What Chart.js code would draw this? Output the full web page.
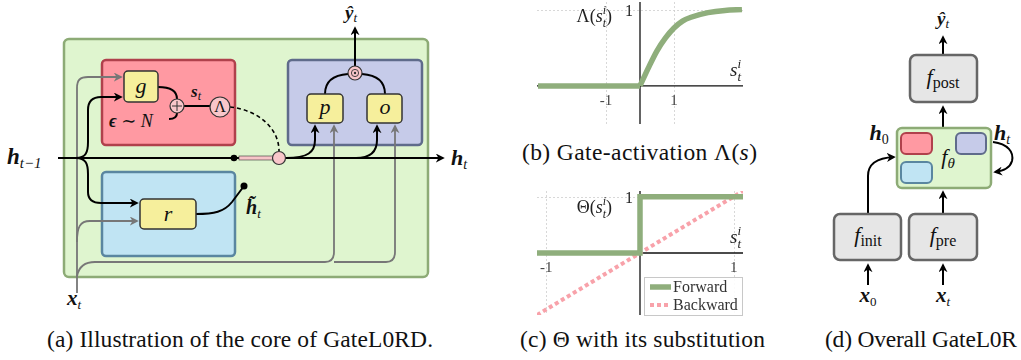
<!doctype html>
<html lang="en">
<head>
<meta charset="utf-8">
<title>GateL0RD</title>
<script src="https://cdn.jsdelivr.net/npm/chart.js"></script>
<style>
    body { margin: 0; background: #fff; }
    #page { position: relative; width: 1021px; height: 360px; overflow: hidden; }
    #page svg { position: absolute; left: 0; top: 0; }
    .cv { position: absolute; }
    .cap { font-family: "Liberation Serif", "DejaVu Serif", "Times New Roman", Times, serif; font-size: 23.5px; fill: #111; }
    .m { font-family: "Liberation Serif", "DejaVu Serif", "Times New Roman", Times, serif; font-style: italic; fill: #111; }
    .b { font-weight: bold; }
    .rm { font-style: normal; }
</style>
</head>
<body>
<div id="page">
<svg width="1021" height="360" viewBox="0 0 1021 360">
    <defs>
        <marker id="ab" viewBox="0 0 10 10" refX="8" refY="5" markerWidth="9" markerHeight="9" orient="auto" markerUnits="userSpaceOnUse">
            <path d="M0,0 L10,5 L0,10 L3,5z" fill="#000"/>
        </marker>
        <marker id="ag" viewBox="0 0 10 10" refX="8" refY="5" markerWidth="9" markerHeight="9" orient="auto" markerUnits="userSpaceOnUse">
            <path d="M0,0 L10,5 L0,10 L3,5z" fill="#777"/>
        </marker>
    </defs>

    <!-- (a) core of GateL0RD -->
    <rect x="64" y="39" width="364" height="238" rx="5" fill="#dff5cf" stroke="#8dab76" stroke-width="2.5"/>
    <rect x="102" y="60" width="133" height="85" rx="4" fill="#ff99a2" stroke="#b0414c" stroke-width="2.5"/>
    <rect x="288" y="60" width="134" height="85" rx="4" fill="#c6cbe9" stroke="#5f6b8b" stroke-width="2.5"/>
    <rect x="102" y="172" width="133" height="84" rx="4" fill="#c0e4f3" stroke="#5a86a0" stroke-width="2.5"/>

    <g fill="none" stroke="#777" stroke-width="1.8">
        <path d="M77,293 V88 C77,80 80,77 88,77 H121" marker-end="url(#ag)"/>
        <path d="M77,242 C77,227 80,221 90,221 H137" marker-end="url(#ag)"/>
        <path d="M77,276 C79,266 85,262 95,262 H325 C331,262 334,258 334,252 V126" marker-end="url(#ag)"/>
        <path d="M334,262 H386 C392,262 395,258 395,252 V126" marker-end="url(#ag)"/>
    </g>
    <g fill="none" stroke="#000" stroke-width="2">
        <path d="M58,158 H443" marker-end="url(#ab)"/>
        <path d="M76,158 C86,158 88,152 88,142 V110 C88,101 92,97 101,97 H121" marker-end="url(#ab)"/>
        <path d="M76,158 C86,158 88,164 88,174 V192 C88,199 92,203 101,203 H137" marker-end="url(#ab)"/>
        <path d="M286,158 C308,158 315,152 315,140 V126" marker-end="url(#ab)"/>
        <path d="M356,158 C370,158 377,152 377,140 V126" marker-end="url(#ab)"/>
        <path d="M158,87 C171,87 177,91 177,99"/>
        <path d="M169,119 C175,119 177,116 177,113"/>
        <path d="M184,106 H210"/>
        <path d="M196,214 C214,214 224,212 232,202 L244,186"/>
        <path d="M325,94 C325,81 334,75 348,74"/>
        <path d="M385,94 C385,81 376,75 362,74"/>
        <path d="M355,66 V28" marker-end="url(#ab)"/>
        <path d="M230,107 C258,110 279,128 279,151" stroke-width="1.6" stroke-dasharray="4,3"/>
    </g>
    <g fill="#f6ef9c" stroke="#333" stroke-width="1.5">
        <rect x="124" y="71" width="34" height="31" rx="4"/>
        <rect x="140" y="199" width="56" height="30" rx="4"/>
        <rect x="307" y="94" width="36" height="29" rx="4"/>
        <rect x="367" y="94" width="35" height="29" rx="4"/>
    </g>
    <rect x="239" y="156" width="36" height="4" fill="#f7c4c8" stroke="#333" stroke-width="0.6"/>
    <circle cx="234" cy="158" r="3.3" fill="#000"/>
    <circle cx="244" cy="186" r="3.5" fill="#000"/>
    <g fill="#f9c6ca" stroke="#333" stroke-width="1.2">
        <circle cx="279" cy="158" r="6.5"/>
        <circle cx="177" cy="106" r="7"/>
        <circle cx="220" cy="107" r="10"/>
        <circle cx="355" cy="73" r="7"/>
    </g>
    <path d="M172,106 H182 M177,101 V111" stroke="#333" stroke-width="1"/>
    <circle cx="355" cy="73" r="3.6" fill="none" stroke="#333" stroke-width="0.9"/>
    <circle cx="355" cy="73" r="1.2" fill="#333"/>

    <text class="m" x="141" y="93" font-size="22" text-anchor="middle">g</text>
    <text class="m" x="168" y="221" font-size="22" text-anchor="middle">r</text>
    <text class="m" x="325" y="114" font-size="22" text-anchor="middle">p</text>
    <text class="m" x="385" y="114" font-size="22" text-anchor="middle">o</text>
    <text class="m rm" x="220" y="112" font-size="16" text-anchor="middle">Λ</text>
    <text class="m" x="191" y="97" font-size="17"><tspan class="b">s</tspan><tspan font-size="12" dy="3">t</tspan></text>
    <text class="m" x="109" y="127" font-size="18"><tspan class="b">ϵ</tspan><tspan class="rm"> ∼ </tspan><tspan>N</tspan></text>
    <text class="m" x="246" y="214" font-size="20"><tspan class="b">h̃</tspan><tspan font-size="13" dy="4">t</tspan></text>
    <text class="m" x="7" y="164" font-size="23"><tspan class="b">h</tspan><tspan font-size="15" dy="4">t−1</tspan></text>
    <text class="m" x="451" y="165" font-size="22"><tspan class="b">h</tspan><tspan font-size="14" dy="4">t</tspan></text>
    <text class="m" x="345" y="19" font-size="19"><tspan class="b">ŷ</tspan><tspan font-size="13" dy="3">t</tspan></text>
    <text class="m" x="67" y="305" font-size="21"><tspan class="b">x</tspan><tspan font-size="13" dy="4">t</tspan></text>

    <!-- (d) overall GateL0RD -->
    <g fill="none" stroke="#000" stroke-width="2">
        <path d="M943,55 V37" marker-end="url(#ab)"/>
        <path d="M943,127 V107" marker-end="url(#ab)"/>
        <path d="M943,213 V192" marker-end="url(#ab)"/>
        <path d="M868,213 V176 C868,164 876,158 894,157" marker-end="url(#ab)"/>
        <path d="M868,285 V265" marker-end="url(#ab)"/>
        <path d="M943,285 V265" marker-end="url(#ab)"/>
        <path d="M993,142 C1008,144 1014,152 1012,161 C1010,168 1003,171 995,172" marker-end="url(#ab)"/>
    </g>
    <g fill="#e6e6e6" stroke="#666" stroke-width="2.5">
        <rect x="910" y="55" width="67" height="47" rx="6"/>
        <rect x="834" y="214" width="67" height="46" rx="6"/>
        <rect x="909" y="214" width="68" height="46" rx="6"/>
    </g>
    <rect x="897" y="128" width="94" height="60" rx="5" fill="#dff5cf" stroke="#8dab76" stroke-width="2.5"/>
    <rect x="901" y="133" width="31" height="21" rx="5" fill="#ff99a2" stroke="#b0414c" stroke-width="2"/>
    <rect x="956" y="133" width="30" height="21" rx="5" fill="#c6cbe9" stroke="#5f6b8b" stroke-width="2"/>
    <rect x="901" y="162" width="31" height="21" rx="5" fill="#c0e4f3" stroke="#5a86a0" stroke-width="2"/>

    <text class="m" x="943" y="25" font-size="19" text-anchor="middle"><tspan class="b">ŷ</tspan><tspan font-size="13" dy="3">t</tspan></text>
    <text class="m" x="943" y="84" font-size="22" text-anchor="middle">f<tspan class="rm" font-size="16" dy="4">post</tspan></text>
    <text class="m" x="948" y="164" font-size="22" text-anchor="middle">f<tspan font-size="15" dy="4">θ</tspan></text>
    <text class="m" x="868" y="242" font-size="22" text-anchor="middle">f<tspan class="rm" font-size="16" dy="4">init</tspan></text>
    <text class="m" x="943" y="242" font-size="22" text-anchor="middle">f<tspan class="rm" font-size="16" dy="4">pre</tspan></text>
    <text class="m" x="879" y="140" font-size="22" text-anchor="middle"><tspan class="b">h</tspan><tspan class="rm" font-size="14" dy="4">0</tspan></text>
    <text class="m" x="994" y="140" font-size="22"><tspan class="b">h</tspan><tspan font-size="14" dy="4">t</tspan></text>
    <text class="m" x="868" y="302" font-size="21" text-anchor="middle"><tspan class="b">x</tspan><tspan class="rm" font-size="13" dy="4">0</tspan></text>
    <text class="m" x="943" y="302" font-size="21" text-anchor="middle"><tspan class="b">x</tspan><tspan font-size="13" dy="4">t</tspan></text>

    <!-- captions -->
    <text class="cap" x="47" y="347" textLength="386">(a) Illustration of the core of GateL0RD.</text>
    <text class="cap" x="522" y="160" textLength="235">(b) Gate-activation Λ(<tspan font-style="italic">s</tspan>)</text>
    <text class="cap" x="520" y="347" textLength="245">(c) Θ with its substitution</text>
    <text class="cap" x="825" y="347" textLength="192">(d) Overall GateL0R</text>
</svg>
<canvas id="gateChart" class="cv" width="240" height="130" style="left:520px;top:0px"></canvas>
<canvas id="thetaChart" class="cv" width="240" height="150" style="left:520px;top:180px"></canvas>
</div>

<script>
    // (b) gate activation
    const gateS = [-3, -2, -1, 0, 0.25, 0.5, 0.75, 1, 1.25, 1.5, 2, 2.5, 3];
    const gateVal = [0, 0, 0, 0, 0.24, 0.46, 0.63, 0.76, 0.85, 0.9, 0.96, 0.99, 1.0];
    const gateTicks = [-1, 1];

    // (c) Heaviside forward pass and straight-through backward pass
    const forwardS = [-1.1, 0, 0, 1.1];
    const forwardVal = [0, 0, 1, 1];
    const backwardS = [-1.1, 1.1];
    const backwardVal = [-1.1, 1.1];
    const thetaTicks = [-1, 1];

    const green = '#8fae7c';
    const pink = '#f8a2aa';
    const serif = '"Liberation Serif", "DejaVu Serif", "Times New Roman", serif';

    function pts(xs, ys) {
        return xs.map((x, i) => ({x: x, y: ys[i]}));
    }

    // draws a run of text pieces: [text, font, dy, advance]
    function drawMath(ctx, x, y, parts, align) {
        let w = 0;
        parts.forEach(p => {
            ctx.font = p[1];
            if (p[3] !== false) w += ctx.measureText(p[0]).width;
        });
        let cx = align === 'right' ? x - w : (align === 'center' ? x - w / 2 : x);
        parts.forEach(p => {
            ctx.font = p[1];
            ctx.fillText(p[0], cx, y + (p[2] || 0));
            if (p[3] !== false) cx += ctx.measureText(p[0]).width;
        });
    }

    function sParts(size) {
        const sub = Math.round(size * 0.68);
        return [
            ['s', 'italic ' + size + 'px ' + serif, 0],
            ['i', 'italic ' + sub + 'px ' + serif, -8, false],
            ['t', 'italic ' + sub + 'px ' + serif, 5]
        ];
    }

    function axesPlugin(opts) {
        return {
            id: 'axes_' + opts.ticks.length + opts.nameDy,
            beforeDatasetsDraw(chart) {
                const ctx = chart.ctx, xs = chart.scales.x, ys = chart.scales.y, a = chart.chartArea;
                const x0 = xs.getPixelForValue(0), y0 = ys.getPixelForValue(0), y1 = ys.getPixelForValue(1);
                ctx.save();
                ctx.strokeStyle = '#cfcfcf';
                ctx.lineWidth = 0.8;
                ctx.setLineDash([2, 2]);
                opts.ticks.forEach(t => {
                    const px = Math.round(xs.getPixelForValue(t)) + 0.5;
                    ctx.beginPath();
                    ctx.moveTo(px, a.top);
                    ctx.lineTo(px, a.bottom);
                    ctx.stroke();
                });
                ctx.beginPath();
                ctx.moveTo(a.left, Math.round(y1) + 0.5);
                ctx.lineTo(a.right, Math.round(y1) + 0.5);
                ctx.stroke();
                ctx.setLineDash([]);
                ctx.strokeStyle = '#111';
                ctx.lineWidth = 1.3;
                ctx.beginPath();
                ctx.moveTo(a.left, y0);
                ctx.lineTo(a.right, y0);
                ctx.moveTo(x0, a.top);
                ctx.lineTo(x0, a.bottom);
                ctx.stroke();
                ctx.restore();
            },
            afterDatasetsDraw(chart) {
                const ctx = chart.ctx, xs = chart.scales.x, ys = chart.scales.y;
                const x0 = xs.getPixelForValue(0), y0 = ys.getPixelForValue(0), y1 = ys.getPixelForValue(1);
                ctx.save();
                ctx.fillStyle = '#222';
                ctx.textBaseline = 'alphabetic';
                // function name label
                drawMath(ctx, x0 - 28, y1 + opts.nameDy, [[opts.name + '(', '18px ' + serif, 0]]
                    .concat(sParts(18)).concat([[')', '18px ' + serif, 0]]), 'right');
                drawMath(ctx, x0 - 7, y1 + 6, [['1', '16px ' + serif, 0]], 'right');
                drawMath(ctx, xs.right - 2, y0 - 10, sParts(19), 'right');
                ctx.fillStyle = '#444';
                opts.ticks.forEach(t => {
                    drawMath(ctx, xs.getPixelForValue(t), y0 + 19, [[t < 0 ? '-' + Math.abs(t) : String(t), '15px ' + serif, 0]], 'center');
                });
                if (opts.legend) {
                    const lx = x0 + 4, ly = chart.chartArea.bottom - 38;
                    ctx.fillStyle = '#fff';
                    ctx.globalAlpha = 0.9;
                    ctx.fillRect(lx, ly, 98, 38);
                    ctx.globalAlpha = 1;
                    ctx.strokeStyle = '#c8c8c8';
                    ctx.lineWidth = 1;
                    ctx.strokeRect(lx + 0.5, ly + 0.5, 98, 38);
                    chart.data.datasets.forEach((d, i) => {
                        const yy = ly + 10 + i * 18;
                        ctx.strokeStyle = d.borderColor;
                        ctx.lineWidth = d.borderWidth;
                        ctx.setLineDash(d.borderDash || []);
                        ctx.beginPath();
                        ctx.moveTo(lx + 6, yy);
                        ctx.lineTo(lx + 27, yy);
                        ctx.stroke();
                        ctx.setLineDash([]);
                        ctx.fillStyle = '#333';
                        drawMath(ctx, lx + 29, yy + 5, [[d.label, '16px ' + serif, 0]]);
                    });
                }
                ctx.restore();
            }
        };
    }

    function baseOptions(xmin, xmax, ymin, ymax, pad) {
        return {
            responsive: false,
            animation: false,
            layout: {padding: pad},
            plugins: {legend: {display: false}, tooltip: {enabled: false}},
            elements: {point: {radius: 0}},
            scales: {
                x: {type: 'linear', min: xmin, max: xmax, display: false},
                y: {type: 'linear', min: ymin, max: ymax, display: false}
            }
        };
    }

    const zeroIdx = gateS.indexOf(0);
    new Chart(document.getElementById('gateChart'), {
        type: 'line',
        data: {
            datasets: [{
                label: 'flat',
                data: pts(gateS.slice(0, zeroIdx + 1), gateVal.slice(0, zeroIdx + 1)),
                borderColor: green, borderWidth: 5.5, clip: false
            }, {
                label: 'rise',
                data: pts(gateS.slice(zeroIdx), gateVal.slice(zeroIdx)),
                borderColor: green, borderWidth: 5.5, clip: false,
                cubicInterpolationMode: 'monotone'
            }]
        },
        options: baseOptions(-3.03, 3.03, -0.5, 1.1, {left: 17, right: 17, top: 2, bottom: 6}),
        plugins: [axesPlugin({name: 'Λ', ticks: gateTicks, nameDy: 12})]
    });

    new Chart(document.getElementById('thetaChart'), {
        type: 'line',
        data: {
            datasets: [{
                label: 'Forward',
                data: pts(forwardS, forwardVal),
                borderColor: green, borderWidth: 5.5, clip: false
            }, {
                label: 'Backward',
                data: pts(backwardS, backwardVal),
                borderColor: pink, borderWidth: 4, borderDash: [4, 3]
            }]
        },
        options: baseOptions(-1.1, 1.1, -1.1, 1.1, {left: 17, right: 17, top: 11, bottom: 15}),
        plugins: [axesPlugin({name: 'Θ', ticks: thetaTicks, nameDy: 16, legend: true})]
    });
</script>
</body>
</html>
